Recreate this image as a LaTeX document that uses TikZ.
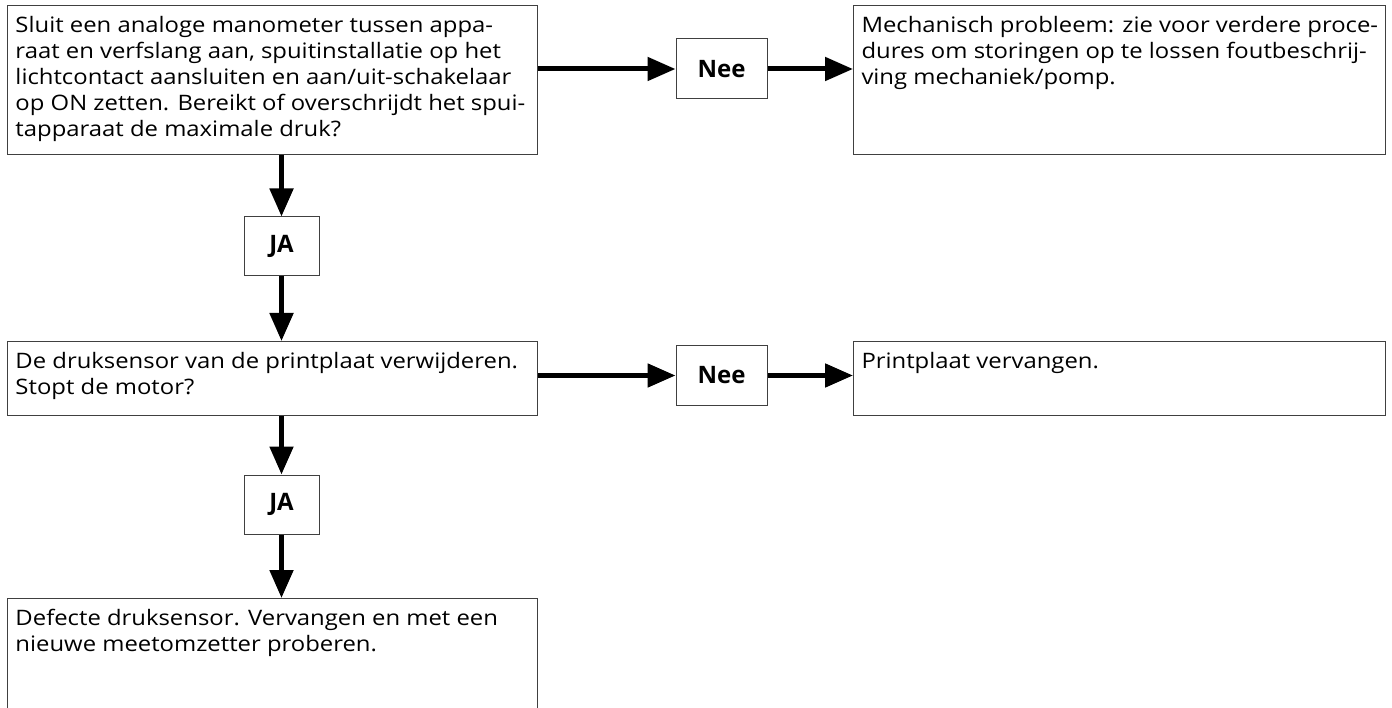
\documentclass[tikz,border=0pt]{standalone}
\usepackage{fontspec}
\setmainfont{Open Sans}
\newfontfamily\bodyfont{Open Sans}[FakeStretch=1.12]
\usetikzlibrary{arrows.meta}
\definecolor{boxgray}{HTML}{404040}
\newcommand{\boxtext}[3]{\parbox[t][#2][t]{#1}{\bodyfont\fontsize{21.3}{26}\selectfont\begin{tabular}[t]{@{}l@{}}\rule{0pt}{23pt}#3\end{tabular}}}
\tikzset{
  txtbox/.style={draw=boxgray, line width=1pt, anchor=north west, inner xsep=8pt, inner ysep=4pt},
  lbl/.style={draw=boxgray, line width=1pt, inner sep=0pt, font=\fontsize{24}{28}\selectfont\bfseries},
  arr/.style={line width=5pt, -{Triangle[length=28pt,width=23pt]}},
}
\begin{document}
\begin{tikzpicture}[x=1pt,y=-1pt]
\useasboundingbox (0,0) rectangle (1392,708);
\node[txtbox] (b1) at (7,5) {\boxtext{514pt}{141pt}{Sluit een analoge manometer tussen appa-\\raat en verfslang aan, spuitinstallatie op het\\lichtcontact aansluiten en aan/uit-schakelaar\\op ON zetten. Bereikt of overschrijdt het spui-\\tapparaat de maximale druk?}};
\node[txtbox] (r1) at (853,5) {\boxtext{516pt}{141pt}{Mechanisch probleem: zie voor verdere proce-\\dures om storingen op te lossen foutbeschrij-\\ving mechaniek/pomp.}};
\node[lbl, minimum width=91pt, minimum height=60pt] (n1) at (721.5,69) {Nee};
\node[lbl, minimum width=75pt, minimum height=59pt] (j1) at (281.5,246.5) {JA};
\node[txtbox] (b2) at (7,341) {\boxtext{514pt}{66pt}{De druksensor van de printplaat verwijderen.\\Stopt de motor?}};
\node[txtbox] (r2) at (853,341) {\boxtext{516pt}{66pt}{Printplaat vervangen.}};
\node[lbl, minimum width=91pt, minimum height=60pt] (n2) at (721.5,375.5) {Nee};
\node[lbl, minimum width=75pt, minimum height=59pt] (j2) at (281.5,504.5) {JA};
\node[txtbox] (b3) at (7,598) {\boxtext{514pt}{112pt}{Defecte druksensor. Vervangen en met een\\nieuwe meetomzetter proberen.}};
\draw[arr] (b1.east |- n1.west) -- (n1.west);
\draw[arr] (n1.east) -- (n1.east -| r1.west);
\draw[arr] (j1.north |- b1.south) -- (j1.north);
\draw[arr] (j1.south) -- (j1.south |- b2.north);
\draw[arr] (b2.east |- n2.west) -- (n2.west);
\draw[arr] (n2.east) -- (n2.east -| r2.west);
\draw[arr] (j2.north |- b2.south) -- (j2.north);
\draw[arr] (j2.south) -- (j2.south |- b3.north);
\end{tikzpicture}
\end{document}
